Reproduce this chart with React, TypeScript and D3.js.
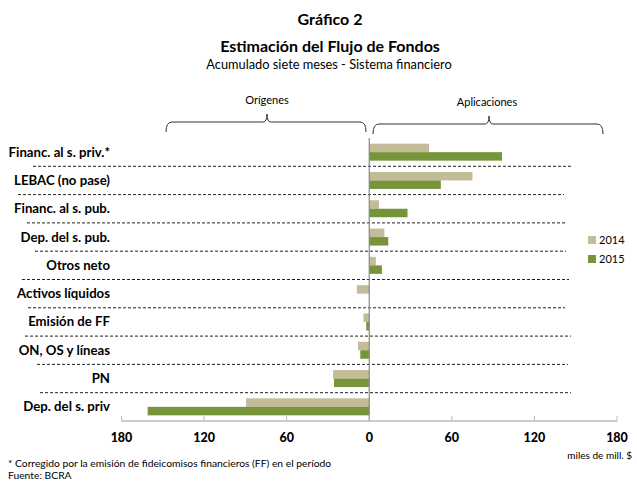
import React from 'react';
import * as d3 from 'd3';

// categories (top to bottom)
const categories = [
  'Financ. al s. priv.*',
  'LEBAC (no pase)',
  'Financ. al s. pub.',
  'Dep. del s. pub.',
  'Otros neto',
  'Activos líquidos',
  'Emisión de FF',
  'ON, OS y líneas',
  'PN',
  'Dep. del s. priv',
];
const values2014 = [43.5, 75, 7, 11, 4.8, -9, -4.2, -8.2, -26.3, -89.5];
const values2015 = [96.5, 52, 27.8, 13.8, 9.2, 0, -2.2, -6.5, -25.6, -161];
const ticks = [-180, -120, -60, 0, 60, 120, 180];
const seriesNames = ['2014', '2015'];
const colors = ['#c4bc98', '#76953b'];

const W = 637;
const H = 482;
const font = 'Lato, "Open Sans", sans-serif';

export default function App() {
  const x = d3.scaleLinear().domain([-180, 180]).range([121.5, 617]);
  const y = d3.scaleBand().domain(categories).range([138, 421]).paddingInner(0).paddingOuter(0);
  const barH = 8.5;
  const x0 = x(0);

  const bars = categories.flatMap((c, i) => [values2014[i], values2015[i]].map((v, s) => {
    const by = (y(c) as number) + y.bandwidth() / 2 + (s === 0 ? -barH : 0);
    return (
      <rect key={c + s} x={Math.min(x(v), x0)} y={by} width={Math.abs(x(v) - x0)} height={barH} fill={colors[s]} />
    );
  }));

  // curly brace path between xa and xb, tip at xm
  const brace = (xa: number, xb: number, xm: number, yl: number) => {
    const r = 4;
    return `M${xa},${yl + 10} Q${xa},${yl} ${xa + r + 2},${yl} L${xm - r},${yl} Q${xm},${yl} ${xm},${yl - 8} Q${xm},${yl} ${xm + r},${yl} L${xb - r - 2},${yl} Q${xb},${yl} ${xb},${yl + 10}`;
  };

  const sepStarts = [33, 18, 27, 35, 22, 28, 25, 37, 40];
  const sepEnds = [571, 564, 567, 566, 569, 565, 571, 568, 571];

  return (
    <svg width={W} height={H} style={{ display: 'block', position: 'absolute', left: 0, top: 0 }} fontFamily={font}>
      <rect width={W} height={H} fill="#fff" />
      <text x={330} y={25} textAnchor="middle" fontSize={16} fontWeight="bold">Gráfico 2</text>
      <text x={330} y={52} textAnchor="middle" fontSize={16} fontWeight="bold">Estimación del Flujo de Fondos</text>
      <text x={329} y={69} textAnchor="middle" fontSize={12.8}>Acumulado siete meses - Sistema financiero</text>

      {/* braces */}
      <text x={267} y={104} textAnchor="middle" fontSize={11}>Orígenes</text>
      <path d={brace(166, 366, 267, 122)} fill="none" stroke="#333" strokeWidth={1} />
      <text x={487} y={106} textAnchor="middle" fontSize={11}>Aplicaciones</text>
      <path d={brace(373, 603, 489, 124)} fill="none" stroke="#333" strokeWidth={1} />

      {/* separators */}
      {categories.slice(0, -1).map((c, i) => (
        <line key={c} x1={sepStarts[i]} x2={sepEnds[i]}
          y1={(y(c) as number) + y.bandwidth()} y2={(y(c) as number) + y.bandwidth()}
          stroke="#222" strokeWidth={1} strokeDasharray="3,2" />
      ))}

      {bars}

      {/* zero line */}
      <line x1={x0} x2={x0} y1={138} y2={421} stroke="#888" strokeWidth={1.2} />

      {/* axis */}
      <line x1={x(-180)} x2={x(180)} y1={421} y2={421} stroke="#999" strokeWidth={1.2} />
      {ticks.map(t => (
        <g key={t}>
          <line x1={x(t)} x2={x(t)} y1={416} y2={421} stroke="#bbb" strokeWidth={1} />
          <text x={x(t)} y={442} textAnchor="middle" fontSize={12.5} fontWeight="900">{Math.abs(t)}</text>
        </g>
      ))}
      <text x={632} y={459} textAnchor="end" fontSize={10}>miles de mill. $</text>

      {/* category labels */}
      {categories.map(c => (
        <text key={c} x={110} y={(y(c) as number) + y.bandwidth() / 2 + 4.5} textAnchor="end" fontSize={13.2} fontWeight="bold">{c}</text>
      ))}

      {/* legend */}
      {seriesNames.map((s, i) => (
        <g key={s} transform={`translate(588,${236 + i * 19})`}>
          <rect width={8} height={8} fill={colors[i]} />
          <text x={11} y={8} fontSize={11}>{s}</text>
        </g>
      ))}

      <text x={8} y={467} fontSize={10.3}>* Corregido por la emisión de fideicomisos financieros (FF) en el período</text>
      <text x={8} y={479} fontSize={10.3}>Fuente: BCRA</text>
    </svg>
  );
}
